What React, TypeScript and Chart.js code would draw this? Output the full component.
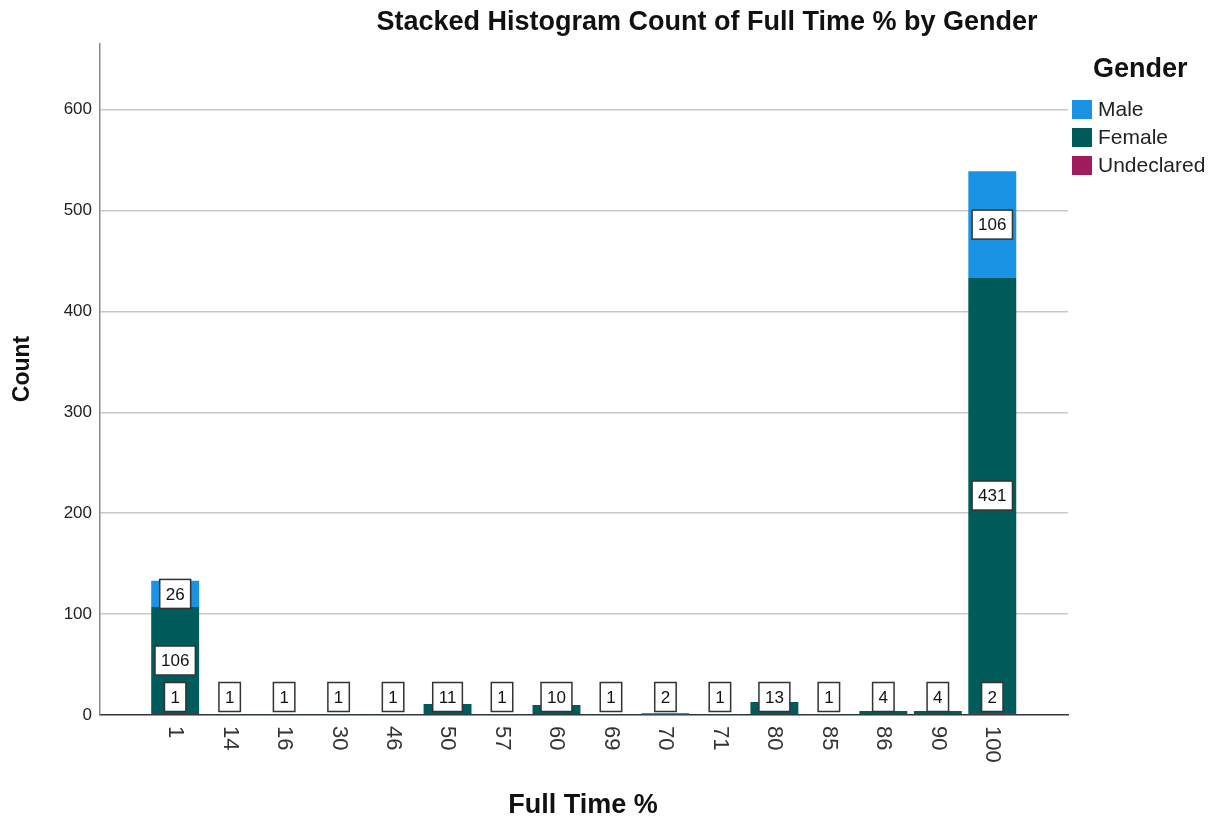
import React, { useEffect, useRef } from "react";
import { Chart, registerables } from "chart.js";

Chart.register(...registerables);

const categories = ["1", "14", "16", "30", "46", "50", "57", "60", "69", "70", "71", "80", "85", "86", "90", "100"];
const maleCounts = [26, 0, 0, 0, 0, 0, 0, 0, 0, 2, 0, 0, 0, 0, 0, 106];
const femaleCounts = [106, 1, 1, 1, 1, 11, 1, 10, 1, 0, 1, 13, 1, 4, 4, 431];
const undeclaredCounts = [1, 0, 0, 0, 0, 0, 0, 0, 0, 0, 0, 0, 0, 0, 0, 2];
const yTicks = [0, 100, 200, 300, 400, 500, 600];

const FONT = "'Liberation Sans', Arial, sans-serif";
const COLORS = { male: "#1b93e5", female: "#005c5a", undeclared: "#a01c5b" };

const decorPlugin = {
  id: "decor",
  afterDatasetsDraw(chart: any) {
    const ctx = chart.ctx;
    const area = chart.chartArea;
    ctx.save();
    chart.data.datasets.forEach((ds: any, di: number) => {
      const meta = chart.getDatasetMeta(di);
      meta.data.forEach((el: any, i: number) => {
        const v = ds.data[i].y;
        if (!v) return;
        let cy = (el.y + el.base) / 2;
        if (cy > area.bottom - 18) cy = area.bottom - 18;
        const txt = String(v);
        ctx.font = `17px ${FONT}`;
        const tw = ctx.measureText(txt).width;
        const bw = tw + 12;
        const bh = 29;
        ctx.fillStyle = "#ffffff";
        ctx.fillRect(el.x - bw / 2, cy - bh / 2, bw, bh);
        ctx.lineWidth = 1.5;
        ctx.strokeStyle = "#333333";
        ctx.strokeRect(el.x - bw / 2, cy - bh / 2, bw, bh);
        ctx.fillStyle = "#111111";
        ctx.textAlign = "center";
        ctx.textBaseline = "middle";
        ctx.fillText(txt, el.x, cy + 1);
      });
    });
    ctx.restore();
  },
  afterDraw(chart: any) {
    const ctx = chart.ctx;
    const area = chart.chartArea;
    const xs = chart.scales.x;
    ctx.save();
    ctx.font = `22px ${FONT}`;
    ctx.fillStyle = "#333333";
    categories.forEach((c, i) => {
      const x = xs.getPixelForValue(i);
      ctx.save();
      ctx.translate(x, area.bottom + 11);
      ctx.rotate(Math.PI / 2);
      ctx.textAlign = "left";
      ctx.textBaseline = "middle";
      ctx.fillText(c, 0, 0);
      ctx.restore();
    });
    ctx.fillStyle = "#111111";
    ctx.font = `bold 27px ${FONT}`;
    ctx.textAlign = "center";
    ctx.textBaseline = "middle";
    ctx.fillText("Stacked Histogram Count of Full Time % by Gender", 707, 23);
    ctx.font = `bold 27px ${FONT}`;
    ctx.fillText("Full Time %", 583, 806);
    ctx.save();
    ctx.translate(23, 369);
    ctx.rotate(-Math.PI / 2);
    ctx.font = `bold 23px ${FONT}`;
    ctx.fillText("Count", 0, 0);
    ctx.restore();
    ctx.textAlign = "left";
    ctx.font = `bold 27px ${FONT}`;
    ctx.fillText("Gender", 1093, 70);
    const items = [
      ["Male", COLORS.male],
      ["Female", COLORS.female],
      ["Undeclared", COLORS.undeclared],
    ];
    ctx.font = `21px ${FONT}`;
    items.forEach((it, k) => {
      const y = 109 + k * 28;
      ctx.fillStyle = it[1];
      ctx.fillRect(1072, y - 9, 20, 19);
      ctx.fillStyle = "#222222";
      ctx.fillText(it[0], 1098, y + 1);
    });
    ctx.restore();
  },
};

export default function App() {
  const ref = useRef<HTMLCanvasElement | null>(null);
  useEffect(() => {
    if (!ref.current) return;
    const mk = (vals: number[]) => vals.map((v, i) => ({ x: i, y: v }));
    const chart = new Chart(ref.current, {
      type: "bar",
      data: {
        datasets: [
          { label: "Undeclared", data: mk(undeclaredCounts), backgroundColor: COLORS.undeclared },
          { label: "Female", data: mk(femaleCounts), backgroundColor: COLORS.female },
          { label: "Male", data: mk(maleCounts), backgroundColor: COLORS.male },
        ],
      },
      options: {
        animation: false,
        responsive: false,
        maintainAspectRatio: false,
        layout: { padding: { left: 0, right: 152, top: 44, bottom: 0 } },
        datasets: { bar: { barPercentage: 0.88, categoryPercentage: 1 } },
        plugins: { legend: { display: false }, title: { display: false }, tooltip: { enabled: false } },
        scales: {
          x: {
            type: "linear",
            stacked: true,
            offset: false,
            min: -1.38,
            max: 16.39,
            grid: { display: false },
            ticks: { display: false },
            border: { display: true, color: "#333333", width: 1.5 },
            afterFit: (s: any) => {
              s.height = 108;
            },
          },
          y: {
            stacked: true,
            min: 0,
            max: 665,
            ticks: {
              stepSize: 100,
              padding: 8,
              color: "#222222",
              font: { family: FONT, size: 17 },
            },
            afterBuildTicks: (s: any) => {
              s.ticks = yTicks.map((v) => ({ value: v }));
            },
            grid: {
              drawTicks: false,
              color: (c: any) => (c.tick && c.tick.value === 0 ? "rgba(0,0,0,0)" : "#c8c8c8"),
              lineWidth: 1.5,
            },
            border: { display: true, color: "#8a8a8a", width: 1.5 },
            afterFit: (s: any) => {
              s.width = 100;
            },
          },
        },
      },
      plugins: [decorPlugin],
    });
    return () => chart.destroy();
  }, []);
  return (
    <div style={{ position: "fixed", left: 0, top: 0, width: 1220, height: 823, background: "#fff" }}>
      <canvas ref={ref} width={1220} height={823} style={{ width: 1220, height: 823, display: "block" }} />
    </div>
  );
}
